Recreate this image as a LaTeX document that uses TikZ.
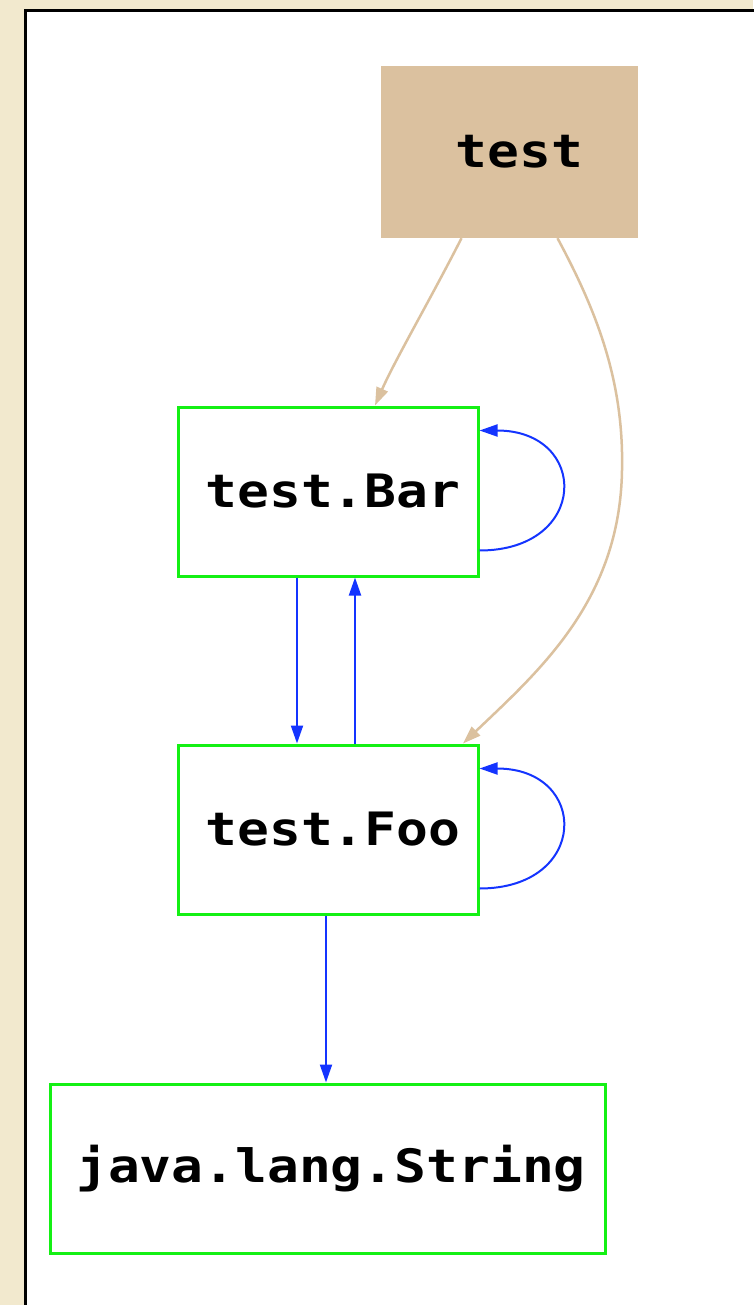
\documentclass[tikz,border=0pt]{standalone}
\usepackage{fontspec}
\setmonofont{DejaVu Sans Mono}
\usetikzlibrary{arrows.meta,calc}
\definecolor{bgbeige}{RGB}{242,233,206}
\definecolor{tanfill}{RGB}{219,193,159}
\definecolor{edgeblue}{RGB}{20,52,255}
\definecolor{boxgreen}{RGB}{20,240,20}
\tikzset{
  pkgbox/.style={draw=boxgreen, line width=3bp, fill=white, inner sep=0pt,
    minimum height=169bp, font=\fontsize{46bp}{50bp}\ttfamily\bfseries},
  tanbox/.style={fill=tanfill, inner sep=0pt, minimum width=257bp, minimum height=172bp,
    font=\fontsize{46bp}{50bp}\ttfamily\bfseries},
  dep/.style={draw=edgeblue, line width=2bp, -{Triangle[length=18bp,width=12bp]}},
  tandep/.style={draw=tanfill, line width=2.5bp, -{Triangle[length=18bp,width=12bp]}},
}
\newcommand{\wtxt}[2]{\hspace*{#1bp}\scalebox{1.15}[1]{#2}}
\begin{document}
\begin{tikzpicture}[x=1bp,y=-1bp]
\useasboundingbox (0,0) rectangle (753,1305);
\fill[bgbeige] (0,0) rectangle (753,1305);
\fill[white] (25,11) rectangle (760,1315);
\draw[black, line width=3bp] (25,1315) -- (25,11) -- (760,11);

\node[tanbox] (test) at (509.5,152) {\wtxt{20}{test}};
\node[pkgbox, minimum width=300bp] (bar) at (328,491.5) {\wtxt{10}{test.Bar}};
\node[pkgbox, minimum width=300bp] (foo) at (328,829.5) {\wtxt{10}{test.Foo}};
\node[pkgbox, minimum width=554bp] (str) at (328,1168.5) {\wtxt{6}{java.lang.String}};

% tan edges
\draw[tandep] ($(test.south)+(-48,0)$) .. controls (430,300) and (395,360) .. ($(bar.north)+(47,0)$);
\draw[tandep] ($(test.south)+(48,0)$) .. controls (596,310) and (624,380) .. (622,470)
  .. controls (620,600) and (540,670) .. ($(foo.north)+(135,0)$);

% blue edges
\draw[dep] ($(bar.south)+(-31,0)$) -- ($(foo.north)+(-31,0)$);
\draw[dep] ($(foo.north)+(27,0)$) -- ($(bar.south)+(27,0)$);
\draw[dep] ($(foo.south)+(-2,0)$) -- ($(str.north)+(-2,0)$);
\draw[dep] ($(bar.east)+(0,59)$) .. controls ($(bar.east)+(110,59)$) and ($(bar.east)+(110,-61)$) .. ($(bar.east)+(0,-61)$);
\draw[dep] ($(foo.east)+(0,59)$) .. controls ($(foo.east)+(110,59)$) and ($(foo.east)+(110,-61)$) .. ($(foo.east)+(0,-61)$);
\end{tikzpicture}
\end{document}
